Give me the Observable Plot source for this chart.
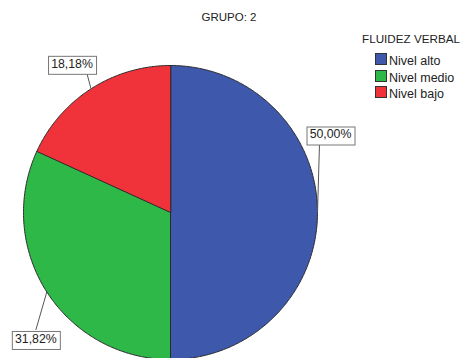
<!DOCTYPE html>
<html><head><meta charset="utf-8">
<script src="https://cdn.jsdelivr.net/npm/d3@7"></script>
<script src="https://cdn.jsdelivr.net/npm/@observablehq/plot@0.6"></script>
<style>
html,body{margin:0;padding:0;background:#fff;}
#wrap{position:relative;width:470px;height:358px;overflow:hidden;font-family:"Liberation Sans",Arial,sans-serif;}
#wrap svg{position:absolute;left:0;top:0;}
</style>
</head><body>
<div id="wrap"></div>
<script>
// ---- data ----
const title = "GRUPO: 2";
const legendTitle = "FLUIDEZ VERBAL";
const categories = ["Nivel alto", "Nivel medio", "Nivel bajo"];
const percents = [50.00, 31.82, 18.18];
const labels = ["50,00%", "31,82%", "18,18%"];
const colors = ["#3e58ac", "#2eb848", "#f0333b"];
// ---- layout (pixel offsets of label boxes from the slice edge midpoint) ----
const labelOffsets = [[13, -78], [-11, 47], [-19, -25]];
const leaderEnds = [[2, -69], [-11, 38], [-4, -15]];
const R = 147;

const arcs = d3.pie().sort(null)(percents);
const slices = arcs.flatMap((a, i) => {
  const pts = [{cat: categories[i], x: 0, y: 0}];
  const n = Math.ceil((a.endAngle - a.startAngle) / 0.01);
  for (let k = 0; k <= n; k++) {
    const t = a.startAngle + (a.endAngle - a.startAngle) * k / n;
    pts.push({cat: categories[i], x: Math.sin(t), y: Math.cos(t)});
  }
  return pts;
});
const labelData = arcs.map((a, i) => {
  const m = (a.startAngle + a.endAngle) / 2;
  const ex = Math.sin(m), ey = Math.cos(m);
  return {
    label: labels[i], ex, ey,
    lx: ex + labelOffsets[i][0] / R, ly: ey - labelOffsets[i][1] / R,
    kx: ex + leaderEnds[i][0] / R, ky: ey - leaderEnds[i][1] / R
  };
});

const chart = Plot.plot({
  width: 470, height: 358,
  marginTop: 0, marginBottom: 0, marginLeft: 0, marginRight: 0,
  x: {domain: [-1, 1], range: [23, 317], axis: null},
  y: {domain: [-1, 1], range: [359, 65], axis: null},
  color: {domain: categories, range: colors},
  style: {fontFamily: "Liberation Sans, Arial, sans-serif", fontSize: "12px", background: "transparent", overflow: "visible"},
  marks: [
    Plot.line(slices, {x: "x", y: "y", z: "cat", fill: "cat", stroke: "#2a2a2a", strokeWidth: 1, curve: "linear-closed"}),
    Plot.link(labelData, {x1: "ex", y1: "ey", x2: "kx", y2: "ky", stroke: "#555", strokeWidth: 1}),
    Plot.text(labelData, {x: "lx", y: "ly", text: "label", fill: "#222", fontSize: 12.3})
  ]
});
const wrap = document.getElementById("wrap");
wrap.appendChild(chart);

// label boxes behind texts
const svgns = "http://www.w3.org/2000/svg";
const tg = chart.querySelector('g[aria-label="text"]');
if (tg) {
  tg.querySelectorAll("text").forEach(t => {
    const b = t.getBBox();
    const r = document.createElementNS(svgns, "rect");
    r.setAttribute("x", Math.round(b.x - 3) + 0.5);
    r.setAttribute("y", Math.round(b.y - 1) + 0.5);
    r.setAttribute("width", Math.round(b.width + 6));
    r.setAttribute("height", Math.round(b.height + 4));
    r.setAttribute("fill", "#fff");
    r.setAttribute("stroke", "#777");
    r.setAttribute("stroke-width", 1);
    const tr = t.getAttribute("transform");
    if (tr) r.setAttribute("transform", tr);
    tg.insertBefore(r, t);
  });
}

// title and legend
const ov = d3.select(wrap).append("svg").attr("width", 470).attr("height", 358)
  .style("font-family", "Liberation Sans, Arial, sans-serif");
ov.append("text").attr("x", 229).attr("y", 21).attr("text-anchor", "middle")
  .attr("font-size", 11.5).attr("fill", "#222").text(title);
ov.append("text").attr("x", 362).attr("y", 43.3)
  .attr("font-size", 11.7).attr("fill", "#222").text(legendTitle);
categories.forEach((c, i) => {
  const y0 = 53 + i * 16.5;
  ov.append("rect").attr("x", 375.5).attr("y", Math.round(y0) + 0.5).attr("width", 11).attr("height", 11)
    .attr("fill", colors[i]).attr("stroke", "#333");
  ov.append("text").attr("x", 389).attr("y", Math.round(y0) + 12)
    .attr("font-size", 12.5).attr("fill", "#222").text(c);
});
</script>
</body></html>
